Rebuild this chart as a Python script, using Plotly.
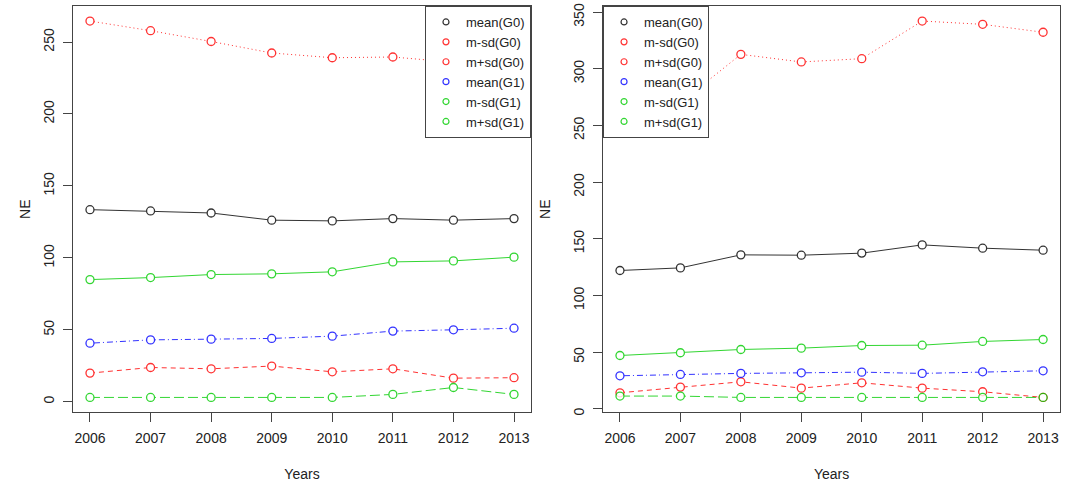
import plotly.graph_objects as go
from plotly.subplots import make_subplots

years = [2006, 2007, 2008, 2009, 2010, 2011, 2012, 2013]
series_names = ["mean(G0)", "m-sd(G0)", "m+sd(G0)", "mean(G1)", "m-sd(G1)", "m+sd(G1)"]

# Left panel
left_mean_g0 = [133.5, 132.6, 131.2, 126.2, 125.7, 127.3, 126.2, 127.3]
left_msd_g0 = [19.9, 23.8, 22.9, 24.8, 20.8, 22.9, 16.4, 16.7]
left_psd_g0 = [264.6, 257.9, 250.4, 242.4, 239.1, 239.6, 236.0, 234.0]
left_mean_g1 = [40.7, 43.0, 43.5, 44.0, 45.6, 49.1, 50.0, 51.1]
left_msd_g1 = [3.0, 3.0, 3.0, 3.0, 3.0, 5.1, 9.9, 5.1]
left_psd_g1 = [84.9, 86.3, 88.4, 88.9, 90.3, 97.2, 97.9, 100.5]

# Right panel
right_mean_g0 = [122.0, 124.3, 135.8, 135.5, 137.3, 144.6, 141.7, 139.9]
right_msd_g0 = [14.1, 19.1, 23.8, 18.2, 22.9, 18.2, 15.0, 10.0]
right_psd_g0 = [262.0, 270.0, 312.7, 306.0, 308.9, 342.1, 339.2, 332.2]
right_mean_g1 = [29.1, 30.3, 31.2, 31.7, 32.3, 31.2, 32.6, 33.5]
right_msd_g1 = [11.2, 11.2, 10.0, 10.0, 10.0, 10.0, 10.0, 10.0]
right_psd_g1 = [47.0, 49.4, 52.3, 53.5, 55.8, 56.1, 59.4, 61.1]

colors = ["#000000", "#FF0000", "#FF0000", "#0000FF", "#00CD00", "#00CD00"]
dashes = ["solid", "5px,4px", "1px,3px", "1px,3px,6px,3px", "10px,4px", "solid"]

FONT = "Liberation Sans, Arial, Helvetica, sans-serif"
TXT = "#222222"

fig = make_subplots(rows=1, cols=2, horizontal_spacing=0.05)

panels = [
    (1, [left_mean_g0, left_msd_g0, left_psd_g0, left_mean_g1, left_msd_g1, left_psd_g1], "legend"),
    (2, [right_mean_g0, right_msd_g0, right_psd_g0, right_mean_g1, right_msd_g1, right_psd_g1], "legend2"),
]

for col, data, leg in panels:
    for name, vals, c, d in zip(series_names, data, colors, dashes):
        fig.add_trace(go.Scatter(
            x=years, y=vals, mode="lines+markers", name=name,
            line=dict(color=c, width=1, dash=d),
            marker=dict(symbol="circle", size=8, color="white",
                        line=dict(color=c, width=1.3)),
            showlegend=False, opacity=0.8,
        ), row=1, col=col)
    for name, c in zip(series_names, colors):
        fig.add_trace(go.Scatter(
            x=[None], y=[None], mode="markers", name=name,
            marker=dict(symbol="circle-open", size=6, color=c, line=dict(width=1.2)),
            showlegend=True, legend=leg, opacity=0.8,
        ), row=1, col=col)


def r_range(vals_list):
    lo = min(min(v) for v in vals_list)
    hi = max(max(v) for v in vals_list)
    ext = (hi - lo) * 0.04
    return [lo - ext, hi + ext]


xr = [years[0] - (years[-1] - years[0]) * 0.04, years[-1] + (years[-1] - years[0]) * 0.04]

axis_common = dict(showline=True, mirror=True, linecolor="#444444", linewidth=1,
                   ticks="outside", ticklen=9, tickcolor="#444444",
                   showgrid=False, zeroline=False, automargin=False,
                   ticklabeloverflow="allow",
                   tickfont=dict(family=FONT, size=14, color=TXT))

x_domains = [[0.0685, 0.4981], [0.5657, 0.9944]]
y_domain = [0.146, 0.9876]
ne_standoff = [7, 17]
for i, (col, data, leg) in enumerate(panels):
    xa = "xaxis" if col == 1 else "xaxis2"
    ya = "yaxis" if col == 1 else "yaxis2"
    fig.layout[xa].update(domain=x_domains[i], range=xr, tickvals=years,
                          title=dict(text="Years", font=dict(family=FONT, size=14, color=TXT), standoff=23),
                          ticklabelstandoff=4, **axis_common)
    fig.layout[ya].update(domain=y_domain, range=r_range(data), dtick=50, tickangle=-90,
                          title=dict(text="NE", font=dict(family=FONT, size=14, color=TXT),
                                     standoff=ne_standoff[i]),
                          ticklabelstandoff=3, ticklabelshift=5 if col == 2 else 0,
                          **axis_common)

legend_common = dict(bgcolor="white", bordercolor="#444444", borderwidth=1,
                     font=dict(family=FONT, size=13, color=TXT),
                     yanchor="top", y=0.9876, itemwidth=30, tracegroupgap=0)

fig.update_layout(
    width=1066, height=483,
    margin=dict(l=0, r=0, t=0, b=0, autoexpand=False),
    paper_bgcolor="white", plot_bgcolor="white",
    legend=dict(x=0.4981, xanchor="right", **legend_common),
    legend2=dict(x=0.5657, xanchor="left", **legend_common),
)

fig.write_html("out.html", config={"displayModeBar": False},
               post_script="document.body.style.margin='0';document.body.style.overflow='hidden';")
